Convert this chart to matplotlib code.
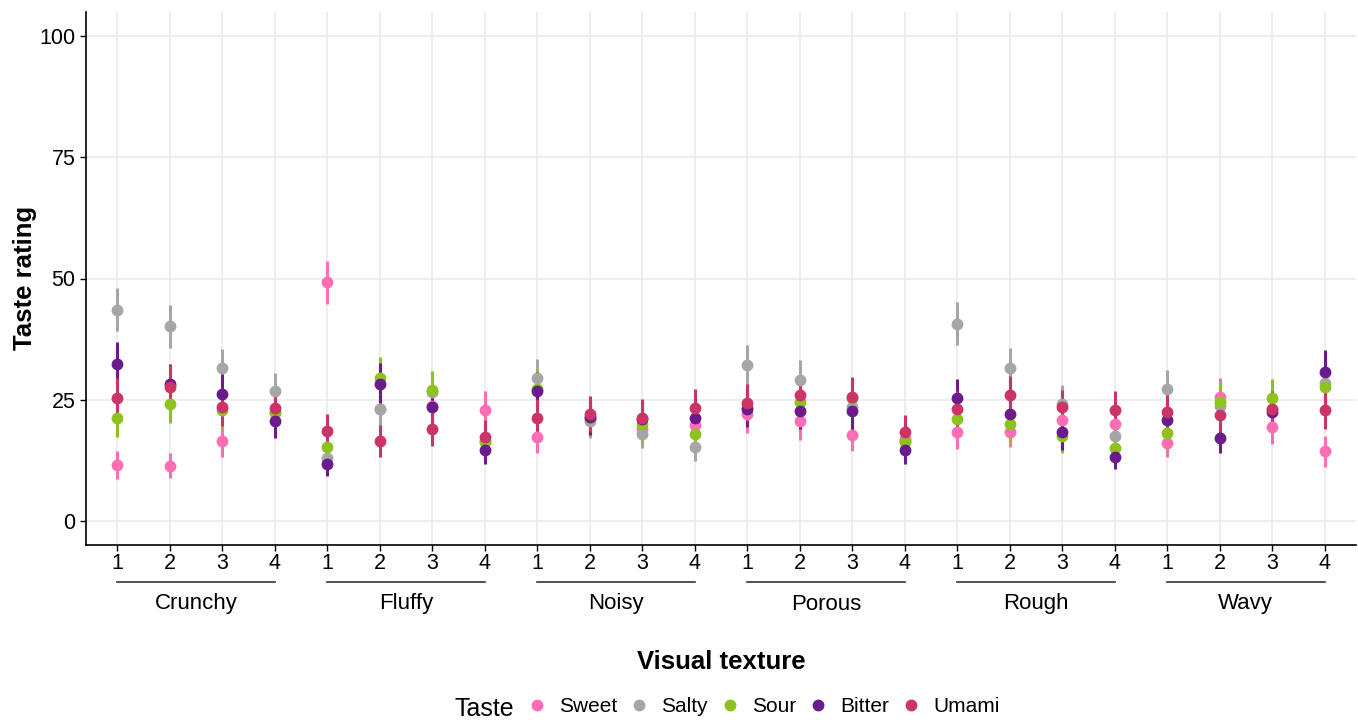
import matplotlib
matplotlib.use("Agg")
import matplotlib.pyplot as plt
import matplotlib.transforms as mtransforms
from matplotlib.lines import Line2D
import numpy as np

plt.rcParams["font.family"] = ["Liberation Sans", "DejaVu Sans"]

textures = ["Crunchy", "Fluffy", "Noisy", "Porous", "Rough", "Wavy"]
levels = ["1", "2", "3", "4"]
tastes = ["Sweet", "Salty", "Sour", "Bitter", "Umami"]
colors = {
    "Sweet": "#FF6EB4",
    "Salty": "#A6A6A6",
    "Sour": "#8DC21F",
    "Bitter": "#6A1B8C",
    "Umami": "#CC3366",
}

# mean ratings, ordered texture x level (Crunchy 1..4, Fluffy 1..4, ...)
sweet = [11.5, 11.4, 16.5, 22.5, 49.2, 23.0, 23.6, 22.8, 17.3, 21.0, 19.0, 19.8,
         22.0, 20.6, 17.7, 16.8, 18.4, 18.4, 20.9, 20.0, 16.1, 25.6, 19.4, 14.3]
salty = [43.6, 40.1, 31.6, 26.7, 12.9, 23.1, 26.5, 16.5, 29.4, 20.5, 18.0, 15.3,
         32.2, 29.1, 23.4, 16.5, 40.7, 31.6, 24.2, 17.5, 27.1, 23.7, 23.0, 28.5]
sour = [21.2, 24.2, 22.9, 22.2, 15.3, 29.5, 27.0, 16.3, 27.1, 21.2, 19.9, 18.0,
        23.3, 24.5, 25.3, 16.3, 21.1, 19.9, 17.5, 15.0, 18.1, 24.6, 25.3, 27.6]
bitter = [32.4, 28.3, 26.2, 20.6, 11.7, 28.2, 23.4, 14.6, 26.7, 21.4, 21.0, 21.3,
          23.0, 22.7, 22.7, 14.6, 25.4, 22.1, 18.4, 13.2, 20.7, 17.1, 22.4, 30.8]
umami = [25.4, 27.6, 23.5, 23.2, 18.5, 16.5, 19.0, 17.2, 21.3, 22.1, 21.2, 23.2,
         24.4, 26.0, 25.6, 18.4, 23.0, 25.9, 23.4, 22.8, 22.5, 21.8, 23.0, 22.8]

# error bar half-widths
sweet_err = [2.8, 2.6, 3.4, 3.6, 4.5, 3.6, 3.6, 3.9, 3.3, 3.5, 3.4, 3.5,
             3.8, 4.0, 3.3, 3.4, 3.5, 3.1, 3.6, 3.5, 3.0, 3.8, 3.5, 3.2]
salty_err = [4.5, 4.5, 3.8, 3.9, 3.4, 4.0, 4.1, 3.6, 4.0, 3.4, 3.0, 2.9,
             4.1, 4.0, 3.8, 3.3, 4.5, 4.1, 3.8, 3.4, 4.1, 4.0, 3.9, 4.2]
sour_err = [4.0, 4.0, 3.9, 3.8, 3.5, 4.2, 4.0, 3.6, 4.2, 3.7, 3.6, 3.5,
            4.0, 4.0, 4.0, 3.4, 3.8, 3.8, 3.5, 3.2, 3.6, 4.0, 3.9, 4.0]
bitter_err = [4.5, 4.1, 4.0, 3.5, 2.4, 4.3, 4.0, 2.9, 4.0, 3.6, 3.7, 3.8,
              3.6, 3.8, 3.9, 2.9, 3.8, 3.7, 3.8, 2.5, 3.7, 3.2, 3.8, 4.4]
umami_err = [4.0, 4.6, 3.9, 3.8, 3.5, 3.3, 3.5, 3.5, 3.8, 3.7, 3.9, 4.0,
             3.8, 3.9, 4.1, 3.4, 3.8, 4.0, 3.6, 4.0, 3.8, 3.8, 3.7, 3.8]

series = {
    "Sweet": (sweet, sweet_err),
    "Salty": (salty, salty_err),
    "Sour": (sour, sour_err),
    "Bitter": (bitter, bitter_err),
    "Umami": (umami, umami_err),
}

fig = plt.figure(figsize=(13.58, 7.2), dpi=100)
ax = fig.add_axes([86 / 1358, 1 - 545 / 720, (1356 - 86) / 1358, (545 - 12) / 720])

x = np.arange(len(textures) * len(levels))
for taste in tastes:
    means, errs = series[taste]
    ax.errorbar(x, means, yerr=errs, fmt="o", color=colors[taste], ecolor=colors[taste],
                markersize=7.5, elinewidth=2.2, capsize=0, zorder=3)

ax.set_xlim(-0.6, len(x) - 0.4)
ax.set_ylim(-5, 105)
ax.set_yticks([0, 25, 50, 75, 100])
ax.set_xticks(x)
ax.set_xticklabels(levels * len(textures))
ax.tick_params(axis="both", labelsize=15.5, colors="black", length=4, width=1)
ax.tick_params(axis="x", pad=2)
ax.grid(True, color="#EBEBEB", linewidth=1.2, zorder=0)
ax.set_axisbelow(True)
for side in ("top", "right"):
    ax.spines[side].set_visible(False)
for side in ("left", "bottom"):
    ax.spines[side].set_linewidth(1.2)

# texture group brackets below the level ticks
trans = mtransforms.blended_transform_factory(ax.transData, ax.transAxes)
for i, texture in enumerate(textures):
    x0, x1 = i * len(levels), i * len(levels) + len(levels) - 1
    ax.plot([x0, x1], [-37 / 533, -37 / 533], transform=trans, color="#333333",
            linewidth=1.2, clip_on=False)
    ax.text((x0 + x1) / 2, -59 / 533, texture, transform=trans, ha="center",
            va="center", fontsize=16)

fig.text(721 / 1358, 1 - 662 / 720, "Visual texture", ha="center", va="center",
         fontsize=18.5, fontweight="bold")
fig.text(25 / 1358, 1 - 278 / 720, "Taste rating", ha="center", va="center",
         rotation=90, fontsize=18.5, fontweight="bold")

handles = [Line2D([], [], marker="o", linestyle="", color=colors[t], markersize=7.5)
           for t in tastes]
fig.legend(handles, tastes, loc="center", bbox_to_anchor=(764 / 1358, 1 - 707 / 720),
           ncol=5, frameon=False, fontsize=15, handletextpad=0.66, columnspacing=0.65,
           handlelength=0.8)
fig.text(514 / 1358, 1 - 709 / 720, "Taste", ha="right", va="center", fontsize=18)

fig.savefig("out.png", dpi=100)
